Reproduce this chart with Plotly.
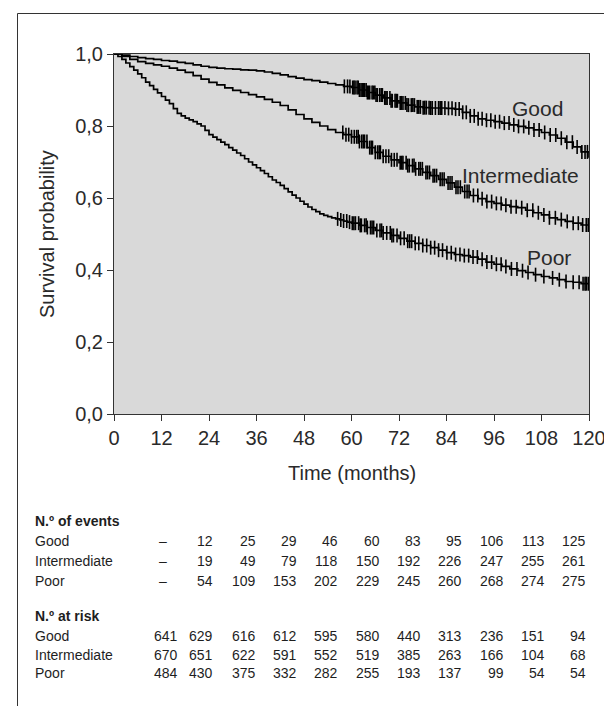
import numpy as np
import plotly.graph_objects as go

# ---------------- data ----------------
months = list(range(0, 121, 2))
poor_months = list(range(0, 61, 1)) + list(range(62, 121, 2))

good_surv = [1.000, 0.997, 0.993, 0.990, 0.987, 0.985, 0.982, 0.980, 0.977, 0.974,
             0.970, 0.966, 0.963, 0.961, 0.959, 0.958, 0.956, 0.955, 0.953, 0.950,
             0.946, 0.942, 0.937, 0.933, 0.929, 0.926, 0.922, 0.918, 0.914, 0.910,
             0.907, 0.900, 0.893, 0.886, 0.878, 0.870, 0.864, 0.858, 0.853, 0.851,
             0.850, 0.850, 0.849, 0.847, 0.838, 0.828, 0.820, 0.816, 0.812, 0.808,
             0.803, 0.799, 0.795, 0.789, 0.782, 0.775, 0.766, 0.755, 0.742, 0.728,
             0.712]

intermediate_surv = [1.000, 0.993, 0.985, 0.979, 0.974, 0.970, 0.966, 0.961, 0.955, 0.949,
                     0.940, 0.930, 0.921, 0.914, 0.906, 0.899, 0.893, 0.887, 0.881, 0.874,
                     0.866, 0.857, 0.845, 0.832, 0.820, 0.810, 0.800, 0.790, 0.782, 0.776,
                     0.770, 0.757, 0.740, 0.727, 0.716, 0.706, 0.698, 0.690, 0.681, 0.671,
                     0.662, 0.652, 0.642, 0.630, 0.618, 0.607, 0.598, 0.590, 0.585, 0.580,
                     0.576, 0.573, 0.566, 0.559, 0.553, 0.545, 0.540, 0.535, 0.530, 0.525,
                     0.520]

poor_surv = [1.000, 0.993, 0.985, 0.975, 0.965, 0.955, 0.945, 0.934, 0.922, 0.912,
             0.902, 0.892, 0.882, 0.872, 0.862, 0.848, 0.835, 0.828, 0.822, 0.817,
             0.812, 0.806, 0.800, 0.788, 0.776, 0.769, 0.762, 0.755, 0.748, 0.740,
             0.733, 0.725, 0.718, 0.709, 0.700, 0.692, 0.684, 0.676, 0.668, 0.659,
             0.650, 0.643, 0.635, 0.626, 0.617, 0.608, 0.600, 0.591, 0.583, 0.575,
             0.568, 0.562, 0.556, 0.552, 0.548, 0.545, 0.542, 0.539, 0.536, 0.533,
             0.530,
             0.524, 0.518, 0.510, 0.503, 0.496, 0.488, 0.480, 0.474, 0.468,
             0.462, 0.455, 0.448, 0.443, 0.440, 0.436, 0.430, 0.422, 0.416, 0.410,
             0.403, 0.398, 0.393, 0.387, 0.382, 0.378, 0.373, 0.368, 0.366, 0.362,
             0.356]

good_censor = [58.2, 59.0, 59.6, 60.3, 60.6, 60.9, 61.4, 61.7, 62.0, 62.4, 62.7, 63.0,
               63.3, 63.7, 64.0, 64.3, 64.6, 65.2, 65.5, 65.9, 66.2, 66.5, 67.1, 67.5,
               67.8, 68.4, 68.7, 69.0, 69.7, 70.0, 70.3, 71.0, 71.3, 71.6, 72.3, 72.6,
               73.0, 73.6, 74.0, 74.4, 75.1, 75.5, 75.9, 76.6, 77.0, 77.4, 78.1, 78.5,
               78.9, 79.6, 80.0, 80.4, 81.2, 82.0, 82.4, 82.8, 83.6, 84.5, 85.4, 86.3,
               87.2, 88.1, 89.0, 90.0, 91.0, 92.0, 93.0, 94.1, 95.2, 96.3, 97.4, 98.6,
               99.8, 101.0, 102.2, 103.5, 104.8, 106.1, 107.4, 108.8, 110.2, 111.6,
               113.0, 114.4, 115.8, 117.0, 118.2, 119.0, 119.6]

intermediate_censor = [57.8, 58.6, 59.3, 60.0, 60.7, 61.3, 61.7, 62.0, 62.6, 63.0, 63.3,
                       63.9, 64.6, 65.0, 65.3, 66.0, 66.6, 67.0, 67.3, 68.0, 68.7, 69.4,
                       70.1, 70.8, 71.5, 72.3, 72.7, 73.0, 73.8, 74.2, 74.6, 75.4, 75.8,
                       76.2, 77.0, 77.4, 77.9, 78.8, 79.2, 79.7, 80.6, 81.0, 81.5, 82.4,
                       82.9, 83.4, 84.4, 84.9, 85.4, 86.4, 86.9, 87.5, 88.6, 89.2, 89.7,
                       90.8, 91.9, 93.0, 94.2, 95.4, 96.6, 97.8, 99.0, 100.3, 101.6,
                       103.0, 104.4, 105.8, 107.2, 108.6, 110.0, 111.5, 113.0, 114.5,
                       116.0, 117.3, 118.4, 119.3, 119.8]

poor_censor = [56.5, 57.3, 58.0, 58.8, 59.5, 60.2, 60.6, 61.0, 61.8, 62.2, 62.5, 63.3,
               63.7, 64.0, 64.8, 65.2, 65.6, 66.4, 67.2, 67.6, 68.0, 68.9, 69.8, 70.2,
               70.6, 71.5, 72.4, 73.3, 74.2, 74.7, 75.2, 76.1, 77.0, 78.0, 79.0, 80.0,
               81.0, 82.0, 83.0, 84.1, 85.2, 86.3, 87.4, 88.5, 89.6, 90.7, 91.8, 93.0,
               94.2, 95.4, 96.6, 97.8, 99.0, 100.4, 101.8, 103.2, 104.6, 106.5, 108.6,
               110.8, 112.5, 114.2, 116.0, 117.5, 118.5, 119.0, 119.3, 119.8]

group_names = ["Good", "Intermediate", "Poor"]
table_months = [0, 12, 24, 36, 48, 60, 72, 84, 96, 108, 120]
x_tick_labels = ["0", "12", "24", "36", "48", "60", "72", "84", "96", "108", "120"]
y_tick_values = [0.0, 0.2, 0.4, 0.6, 0.8, 1.0]

good_events = [12, 25, 29, 46, 60, 83, 95, 106, 113, 125]
intermediate_events = [19, 49, 79, 118, 150, 192, 226, 247, 255, 261]
poor_events = [54, 109, 153, 202, 229, 245, 260, 268, 274, 275]

good_at_risk = [641, 629, 616, 612, 595, 580, 440, 313, 236, 151, 94]
intermediate_at_risk = [670, 651, 622, 591, 552, 519, 385, 263, 166, 104, 68]
poor_at_risk = [484, 430, 375, 332, 282, 255, 193, 137, 99, 54, 54]

# ---------------- layout constants (pixels) ----------------
W, H = 612, 706
PL, PR, PT, PB = 106, 581, 46, 406   # plot area


def xp(px):
    return (px - PL) / (PR - PL)


def yp(py):
    return (PB - py) / (PB - PT)


FONT = "Liberation Sans, Arial, Helvetica, sans-serif"
TXT = "#2a2a2a"

fig = go.Figure()

curves = [(months, good_surv, good_censor),
          (months, intermediate_surv, intermediate_censor),
          (poor_months, poor_surv, poor_censor)]
for tms, surv, cens in curves:
    fig.add_trace(go.Scatter(x=tms, y=surv, mode="lines", line_shape="hv",
                             line=dict(color="black", width=1.7), hoverinfo="skip"))
    t_arr = np.array(tms, dtype=float)
    s_arr = np.array(surv)
    idx = np.searchsorted(t_arr, np.array(cens), side="right") - 1
    fig.add_trace(go.Scatter(x=cens, y=s_arr[idx].tolist(), mode="markers",
                             marker=dict(symbol="line-ns", size=10,
                                         line=dict(color="black", width=1.6)),
                             hoverinfo="skip"))

axis_common = dict(showgrid=False, zeroline=False, showline=True, linecolor="#333",
                   linewidth=1, mirror=True, ticks="outside", ticklen=6,
                   tickcolor="#333", tickwidth=1,
                   tickfont=dict(family=FONT, size=20, color=TXT))

fig.update_layout(
    width=W, height=H,
    margin=dict(l=PL, r=W - PR, t=PT, b=H - PB, pad=0),
    paper_bgcolor="white", plot_bgcolor="#d9d9d9",
    showlegend=False, separators=",.",
    font=dict(family=FONT, size=20, color=TXT),
    xaxis=dict(range=[0, 120], tickvals=table_months, ticktext=x_tick_labels,
               **axis_common),
    yaxis=dict(range=[0, 1], tickvals=y_tick_values, tickformat=".1f",
               **axis_common),
)

ann = []
# axis titles
ann.append(dict(text="Time (months)", x=xp(343.5), y=yp(465), xref="paper", yref="paper",
                showarrow=False, xanchor="center", yanchor="middle",
                font=dict(family=FONT, size=20, color=TXT)))
ann.append(dict(text="Survival probability", x=xp(39), y=yp(226), xref="paper",
                yref="paper", showarrow=False, textangle=-90, xanchor="center",
                yanchor="middle", font=dict(family=FONT, size=20, color=TXT)))

# curve labels
for name, tx, sy in [("Good", 107.1, 0.85), ("Intermediate", 102.7, 0.6625),
                     ("Poor", 109.8, 0.436)]:
    ann.append(dict(text=name, x=tx, y=sy, xref="x", yref="y", showarrow=False,
                    xanchor="center", yanchor="middle",
                    font=dict(family=FONT, size=21, color=TXT)))

# table
col_right = [172, 207, 250, 291, 332, 374, 415, 456, 498, 539, 580]
label_x = 25
TF = 14


def add_text(text, px, py, anchor="left", bold=False):
    ann.append(dict(text=f"<b>{text}</b>" if bold else text, x=xp(px), y=yp(py),
                    xref="paper", yref="paper", showarrow=False, xanchor=anchor,
                    yanchor="middle", font=dict(family=FONT, size=TF, color="#1e1e1e")))


ev_header_y = 513
ev_rows_y = [533, 553, 573]
add_text("N.º of events", label_x, ev_header_y, bold=True)
for name, ev, ry in zip(group_names, [good_events, intermediate_events, poor_events],
                        ev_rows_y):
    add_text(name, label_x, ry)
    add_text("–", 155, ry, anchor="center")
    for v, cx in zip(ev, col_right[1:]):
        add_text(str(v), cx, ry, anchor="right")

ar_header_y = 608
ar_rows_y = [628, 647, 665]
add_text("N.º at risk", label_x, ar_header_y, bold=True)
for name, ar, ry in zip(group_names, [good_at_risk, intermediate_at_risk, poor_at_risk],
                        ar_rows_y):
    add_text(name, label_x, ry)
    for v, cx in zip(ar, col_right):
        add_text(str(v), cx, ry, anchor="right")

fig.update_layout(annotations=ann)

# outer frame (left and top edges)
fig.add_shape(type="line", xref="paper", yref="paper", x0=xp(9.5), x1=xp(9.5),
              y0=yp(5.5), y1=yp(H + 2), line=dict(color="#333", width=1))
fig.add_shape(type="line", xref="paper", yref="paper", x0=xp(9.5), x1=xp(W + 2),
              y0=yp(5.5), y1=yp(5.5), line=dict(color="#333", width=1))

fig.write_html("out.html")
